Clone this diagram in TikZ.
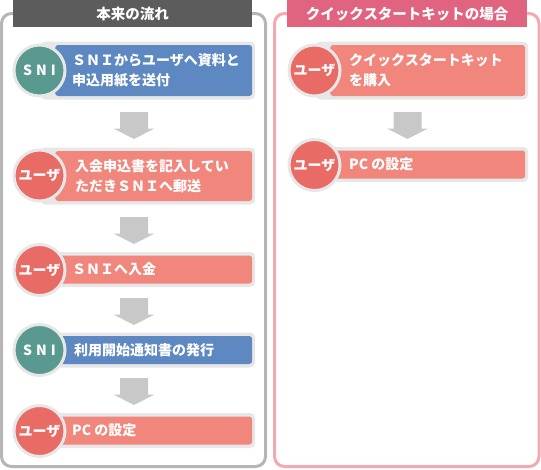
\documentclass[tikz,border=0pt]{standalone}
\usepackage{fontspec}
\setmainfont{Noto Sans CJK JP}[BoldFont={Noto Sans CJK JP Black}]
\definecolor{stepblue}{HTML}{5D88C1}
\definecolor{tealc}{HTML}{5A998F}
\definecolor{salmon}{HTML}{F0867C}
\definecolor{redc}{HTML}{E96B65}
\definecolor{padgray}{HTML}{E7E7E7}
\definecolor{lframe}{HTML}{B5B5B5}
\definecolor{ltitle}{HTML}{5C5C5C}
\definecolor{rframe}{HTML}{F5A8B0}
\definecolor{rtitle}{HTML}{E0637F}
\definecolor{arrowgray}{HTML}{C8C8C8}
\tikzset{
  frameline/.style={line width=3pt, rounded corners=10pt},
  titlebar/.style={minimum height=27pt, inner sep=0pt, anchor=north west, text=white,
    font=\fontsize{14.5}{16}\selectfont\bfseries},
  outerbox/.style={fill=padgray, rounded corners=5pt, inner sep=0pt, anchor=west},
  inbox/.style={rounded corners=3pt, inner sep=0pt, anchor=west},
  circ/.style={circle, draw=padgray, line width=3pt, minimum size=51pt, inner sep=0pt,
    text=white, font=\fontsize{14}{16}\selectfont\bfseries},
  steptext/.style={anchor=west, align=left, inner sep=0pt, text=white,
    font=\fontsize{14}{20}\selectfont\bfseries},
  downarrow/.pic={\fill[arrowgray] (-14,0) -- (14,0) -- (14,16.5) -- (20.5,16.5) -- (0,27)
    -- (-20.5,16.5) -- (-14,16.5) -- cycle;}
}
\newcommand{\sniname}{S\hspace{4pt}N\hspace{4pt}I}
\begin{document}
\begin{tikzpicture}[x=1pt,y=-1pt]
\useasboundingbox (0,0) rectangle (541,469);
% frames
\draw[frameline, draw=lframe] (1.5,13.5) rectangle (265.5,466.5);
\draw[frameline, draw=rframe] (274.5,13.5) rectangle (539,466.5);
\node[titlebar, fill=ltitle, minimum width=239pt] (lt) at (13,0) {本来の流れ};
\node[titlebar, fill=rtitle, minimum width=240pt] (rt) at (287,0) {クイックスタートキットの場合};

% ---- left column ----
% row 1
\node[outerbox, minimum width=215pt, minimum height=58pt] (g1) at (40,70.5) {};
\node[inbox, fill=stepblue, minimum width=197pt, minimum height=51pt] (b1) at (55,70.5) {};
\node[circ, fill=tealc] (c1) at (39.5,70.5) {\sniname};
\node[steptext] (t1) at (72,70.5) {ＳＮＩからユーザへ資料と\\申込用紙を送付};
\pic at (134,112) {downarrow};
% row 2
\node[outerbox, minimum width=215pt, minimum height=57pt] (g2) at (40,176) {};
\node[inbox, fill=salmon, minimum width=197pt, minimum height=50pt] (b2) at (55,176) {};
\node[circ, fill=redc] (c2) at (39.5,175.5) {ユーザ};
\node[steptext] (t2) at (75,176) {入会申込書を記入してい\\ただきＳＮＩへ郵送};
\pic at (134,217) {downarrow};
% row 3
\node[outerbox, minimum width=215pt, minimum height=35pt] (g3) at (40,269.5) {};
\node[inbox, fill=salmon, minimum width=197pt, minimum height=28pt] (b3) at (55,269.5) {};
\node[circ, fill=redc] (c3) at (39.5,270) {ユーザ};
\node[steptext] (t3) at (72,269.5) {ＳＮＩへ入金};
\pic at (134,298) {downarrow};
% row 4
\node[outerbox, minimum width=215pt, minimum height=35pt] (g4) at (40,350) {};
\node[inbox, fill=stepblue, minimum width=197pt, minimum height=28pt] (b4) at (55,350) {};
\node[circ, fill=tealc] (c4) at (39.5,350) {\sniname};
\node[steptext] (t4) at (74,350) {利用開始通知書の発行};
\pic at (134,378) {downarrow};
% row 5
\node[outerbox, minimum width=215pt, minimum height=35pt] (g5) at (40,430.5) {};
\node[inbox, fill=salmon, minimum width=197pt, minimum height=28pt] (b5) at (55,430.5) {};
\node[circ, fill=redc] (c5) at (39.5,431) {ユーザ};
\node[steptext] (t5) at (72,430.5) {PC の設定};

% ---- right column ----
\node[outerbox, minimum width=213pt, minimum height=58pt] (rg1) at (315,70.5) {};
\node[inbox, fill=salmon, minimum width=195pt, minimum height=51pt] (rb1) at (330,70.5) {};
\node[circ, fill=redc] (rc1) at (314.5,70.5) {ユーザ};
\node[steptext] (rt1) at (349,70.5) {クイックスタートキット\\を購入};
\pic at (407.5,112) {downarrow};
\node[outerbox, minimum width=213pt, minimum height=35pt] (rg2) at (315,164.5) {};
\node[inbox, fill=salmon, minimum width=195pt, minimum height=28pt] (rb2) at (330,164.5) {};
\node[circ, fill=redc] (rc2) at (314.5,165) {ユーザ};
\node[steptext] (rt2) at (349,164.5) {PC の設定};
\end{tikzpicture}
\end{document}
